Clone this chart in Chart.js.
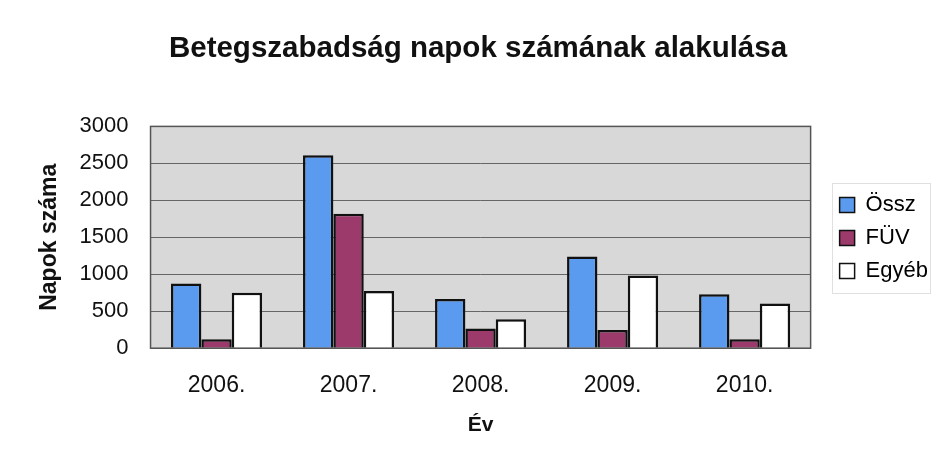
<!DOCTYPE html>
<html>
<head>
<meta charset="utf-8">
<script src="https://cdn.jsdelivr.net/npm/chart.js@4/dist/chart.umd.min.js"></script>
<style>
  html, body { margin: 0; padding: 0; background: #fff; }
  #wrap { width: 932px; height: 464px; }
</style>
</head>
<body>
<div id="wrap"><canvas id="myChart" width="932" height="464"></canvas></div>
<script>
const years = ['2006.', '2007.', '2008.', '2009.', '2010.'];
const osszValues = [875, 2610, 665, 1240, 730];
const fuvValues = [120, 1820, 265, 245, 120];
const egyebValues = [750, 775, 390, 985, 605];
const yTicks = [0, 500, 1000, 1500, 2000, 2500, 3000];

const fontFamily = '"Liberation Sans", Arial, sans-serif';

// gray plot background, plot frame, faint legend frame
const plotBackground = {
  id: 'plotBackground',
  afterLayout(chart) {
    // nudge the legend to where it sits in the original
    const lg = chart.legend;
    lg.left += 18; lg.right += 18;
    lg.top += 19; lg.bottom += 19;
  },
  beforeDraw(chart) {
    const { ctx, chartArea: a } = chart;
    ctx.save();
    ctx.fillStyle = '#d8d8d8';
    ctx.fillRect(a.left, a.top, a.right - a.left, a.bottom - a.top);
    ctx.restore();
  },
  afterDraw(chart) {
    const { ctx, chartArea: a } = chart;
    ctx.save();
    ctx.strokeStyle = '#555';
    ctx.lineWidth = 1.5;
    ctx.strokeRect(a.left, a.top, a.right - a.left, a.bottom - a.top);
    ctx.strokeStyle = '#e0e0e0';
    ctx.lineWidth = 1;
    ctx.strokeRect(832.5, 183.5, 98, 110);
    ctx.restore();
  }
};

const chartData = {
  labels: years,
  datasets: [
    { label: 'Össz', data: osszValues, backgroundColor: '#5a9bef' },
    { label: 'FÜV', data: fuvValues, backgroundColor: '#9b3a6b' },
    { label: 'Egyéb', data: egyebValues, backgroundColor: '#ffffff' }
  ].map(d => Object.assign(d, {
    borderColor: '#111',
    borderWidth: 2.5,
    borderSkipped: 'bottom',
    categoryPercentage: 0.69,
    barPercentage: 1
  }))
};

const myChart = new Chart(document.getElementById('myChart').getContext('2d'), {
  type: 'bar',
  data: chartData,
  plugins: [plotBackground],
  options: {
    responsive: false,
    animation: false,
    layout: { padding: { left: 36, right: 12, top: 0, bottom: 26 } },
    plugins: {
      title: {
        display: true,
        text: 'Betegszabadság napok számának alakulása',
        color: '#111',
        font: { family: fontFamily, size: 29.5, weight: 'bold' },
        padding: { top: 31, bottom: 60 }
      },
      legend: {
        position: 'right',
        labels: {
          color: '#111',
          font: { family: fontFamily, size: 22 },
          boxWidth: 15,
          boxHeight: 15,
          padding: 11,
          generateLabels(chart) {
            return chart.data.datasets.map((d, i) => ({
              text: d.label,
              fillStyle: d.backgroundColor,
              strokeStyle: '#111',
              lineWidth: 1.5,
              hidden: false,
              datasetIndex: i
            }));
          }
        }
      },
      tooltip: { enabled: false }
    },
    scales: {
      x: {
        grid: { display: false, drawTicks: false },
        border: { display: false },
        ticks: { color: '#111', font: { family: fontFamily, size: 23 }, padding: 24 },
        title: {
          display: true,
          text: 'Év',
          color: '#111',
          font: { family: fontFamily, size: 21, weight: 'bold' },
          padding: { top: -11, bottom: 0 }
        }
      },
      y: {
        min: 0,
        max: 3000,
        afterBuildTicks(axis) { axis.ticks = yTicks.map(v => ({ value: v })); },
        grid: { color: '#666', lineWidth: 1, drawTicks: false },
        border: { display: false },
        ticks: {
          color: '#111',
          font: { family: fontFamily, size: 22 },
          padding: 22,
          callback: v => String(v)
        },
        title: {
          display: true,
          text: 'Napok száma',
          color: '#111',
          font: { family: fontFamily, size: 23, weight: 'bold' },
          padding: { top: 0, bottom: -6 }
        }
      }
    }
  }
});
</script>
</body>
</html>
